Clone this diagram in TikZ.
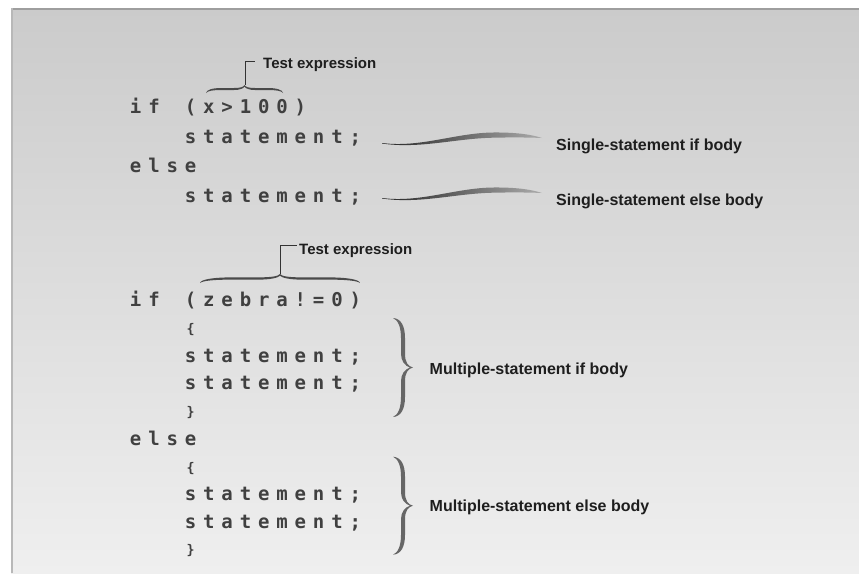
\documentclass[tikz,border=0pt]{standalone}
\usepackage{graphicx}
\usepackage{fontspec}
\newfontfamily\codefont{DejaVu Sans Mono}
\newfontfamily\labfont{Liberation Sans}
\definecolor{codecol}{HTML}{404040}
\definecolor{labcol}{HTML}{1E1E1E}
\definecolor{bracecol}{HTML}{666666}
\definecolor{hbracecol}{HTML}{4A4A4A}
\definecolor{panTop}{HTML}{CBCBCB}
\definecolor{panBot}{HTML}{EFEFEF}
\definecolor{swL}{HTML}{262626}
\definecolor{swR}{HTML}{ABABAB}
\definecolor{leadcol}{HTML}{333333}
\makeatletter
\newlength\cellw \setlength\cellw{18.3pt}
\newcommand\mono[1]{\@tfor\mych:=#1\do{\makebox[\cellw][c]{\mych}}}
\makeatother
\newcommand\cbrace[1]{\makebox[\cellw][c]{\raisebox{1pt}{\scalebox{0.7}{#1}}}}
\begin{document}
\begin{tikzpicture}[x={(1pt,0pt)},y={(0pt,-1pt)},
  code/.style={anchor=base west, inner sep=0pt, font=\codefont\bfseries\fontsize{19}{22}\selectfont, text=codecol},
  lab/.style={anchor=base west, inner sep=0pt, font=\labfont\bfseries\fontsize{16}{19}\selectfont, text=labcol},
  labsmall/.style={lab, font=\labfont\bfseries\fontsize{15}{18}\selectfont},
  leader/.style={draw=leadcol, line width=1pt},
  pics/vbr/.style={code={\fill[bracecol] (0,0) .. controls (8,0.5) and (12,8) .. (12,20) -- (12,36) .. controls (12,44) and (15,48.5) .. (20,49.5) .. controls (15,50.5) and (12,55) .. (12,63) -- (12,79) .. controls (12,91) and (8,98.5) .. (0,99) .. controls (5,97) and (8,90) .. (8,79) -- (8,63) .. controls (8,56) and (12,51) .. (17,49.5) .. controls (12,48) and (8,43) .. (8,36) -- (8,20) .. controls (8,9) and (5,2) .. (0,0) -- cycle;}},
  pics/hbr/.style={code={\fill[hbracecol] (0,0) .. controls (0.5,-8) and (8,-12.5) .. (20,-12.5) -- (36,-12.5) .. controls (44,-12.5) and (48.5,-15) .. (49.5,-20) .. controls (50.5,-15) and (55,-12.5) .. (63,-12.5) -- (79,-12.5) .. controls (91,-12.5) and (98.5,-8) .. (99,0) .. controls (97,-5.5) and (90,-7.5) .. (79,-7.5) -- (63,-7.5) .. controls (56,-7.5) and (51,-11) .. (49.5,-16) .. controls (48,-11) and (43,-7.5) .. (36,-7.5) -- (20,-7.5) .. controls (9,-7.5) and (2,-5.5) .. (0,0) -- cycle;}},
  pics/swoosh/.style={code={\shade[left color=swL, right color=swR] (0,0) .. controls (38,5) and (73,-10) .. (111,-10.5) .. controls (136,-10.8) and (151,-8) .. (160,-5) .. controls (150,-5.5) and (133,-5.8) .. (111,-5.3) .. controls (73,-4.5) and (38,6) .. (0,0.5) -- cycle;}}
]
\useasboundingbox (0,0) rectangle (859,573);
\fill[white] (0,0) rectangle (859,573);
\shade[top color=panTop, bottom color=panBot] (11,8) rectangle (859,573);
\draw[draw=black!38, line width=1.5pt] (11,8.75) -- (859,8.75);
\draw[draw=black!28, line width=1.5pt] (11.75,8) -- (11.75,573);

% code lines
\node[code] (if1) at (126.35,113) {\mono{if~(x>100)}};
\node[code] (st1) at (181.25,143) {\mono{statement;}};
\node[code] (else1) at (126.35,172) {\mono{else}};
\node[code] (st2) at (181.25,202) {\mono{statement;}};
\node[code] (if2) at (126.35,306.5) {\mono{if~(zebra!=0)}};
\node[code] (ob1) at (181.25,334) {\cbrace{\{}};
\node[code] (st3) at (181.25,362) {\mono{statement;}};
\node[code] (st4) at (181.25,389.5) {\mono{statement;}};
\node[code] (cb1) at (181.25,417) {\cbrace{\}}};
\node[code] (else2) at (126.35,445.5) {\mono{else}};
\node[code] (ob2) at (181.25,473) {\cbrace{\{}};
\node[code] (st5) at (181.25,500.5) {\mono{statement;}};
\node[code] (st6) at (181.25,528) {\mono{statement;}};
\node[code] (cb2) at (181.25,555.5) {\cbrace{\}}};

% labels
\node[labsmall] (te1) at (263,68.3) {Test expression};
\node[lab] (sif) at (556,150) {Single-statement if body};
\node[lab] (selse) at (556,205) {Single-statement else body};
\node[labsmall] (te2) at (299,254) {Test expression};
\node[lab] (mif) at (429.5,374.3) {Multiple-statement if body};
\node[lab] (melse) at (429.5,511.7) {Multiple-statement else body};

% top braces with leaders
\pic[xscale=0.778, yscale=0.4] at (206,93) {hbr};
\coordinate (tip1) at (245,85);
\coordinate (end1) at (255,61.7);
\draw[leader] (tip1) |- (end1);
\pic[xscale=1.616, yscale=0.45] at (200,283) {hbr};
\coordinate (tip2) at (280,274);
\coordinate (end2) at (297,245);
\draw[leader] (tip2) |- (end2);

% swooshes
\pic at (382,143) {swoosh};
\pic at (382,198) {swoosh};

% vertical braces
\pic at (393,318) {vbr};
\pic[yscale=0.99] at (393,456.7) {vbr};
\end{tikzpicture}
\end{document}
